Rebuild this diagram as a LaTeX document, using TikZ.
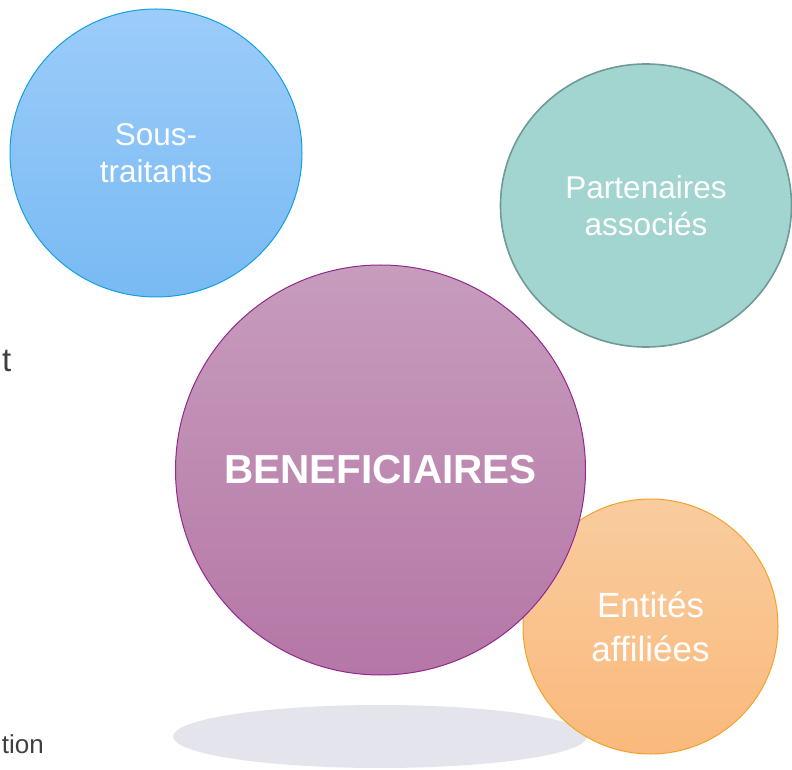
\documentclass[tikz,border=0pt]{standalone}
\usepackage{fontspec}
\setmainfont{Liberation Sans}
\usetikzlibrary{shapes.geometric}
\definecolor{blueTop}{HTML}{9CCCFA}
\definecolor{blueBot}{HTML}{78BAF3}
\definecolor{blueLine}{HTML}{12A0E0}
\definecolor{tealFill}{HTML}{A3D5D0}
\definecolor{tealLine}{HTML}{6F9A95}
\definecolor{purTop}{HTML}{C79CBD}
\definecolor{purBot}{HTML}{B577A6}
\definecolor{purLine}{HTML}{93278F}
\definecolor{orTop}{HTML}{F9CC9E}
\definecolor{orBot}{HTML}{FAB97C}
\definecolor{orLine}{HTML}{F2A228}
\definecolor{shadowGrey}{HTML}{E3E4EC}
\definecolor{darkText}{HTML}{404040}
\begin{document}
\begin{tikzpicture}[x=1pt,y=1pt,
  bubble/.style={ellipse, inner sep=0pt, align=center, text=white, line width=1pt},
  lbl/.style={font=\fontsize{31.5}{37}\selectfont},
  sidetext/.style={inner sep=0pt, text=darkText}]
\useasboundingbox (0,0) rectangle (792,769);
\node[ellipse, fill=shadowGrey, inner sep=0pt, minimum width=414, minimum height=63] (shadow) at (380,32.5) {};
\node[bubble, draw=orLine, top color=orTop, bottom color=orBot, minimum width=255, minimum height=255,
  font=\fontsize{35}{44}\selectfont] (ent) at (650.5,142.5) {Entités\\affiliées};
\node[bubble, circle, draw=purLine, top color=purTop, bottom color=purBot, minimum size=410,
  font=\fontsize{40.5}{48}\selectfont\bfseries] (ben) at (380.5,299) {BENEFICIAIRES};
\node[bubble, lbl, draw=blueLine, top color=blueTop, bottom color=blueBot, minimum width=292, minimum height=288] (sous) at (156,616) {Sous-\\traitants};
\node[bubble, lbl, draw=tealLine, line width=1.6pt, fill=tealFill, minimum width=291, minimum height=283] (part) at (646,563.5) {Partenaires\\associés};
\node[sidetext, anchor=base east, font=\fontsize{33}{38}\selectfont] (t1) at (11.5,397) {t};
\node[sidetext, anchor=base east, font=\fontsize{26}{30}\selectfont] (t2) at (44,16) {tion};
\end{tikzpicture}
\end{document}
